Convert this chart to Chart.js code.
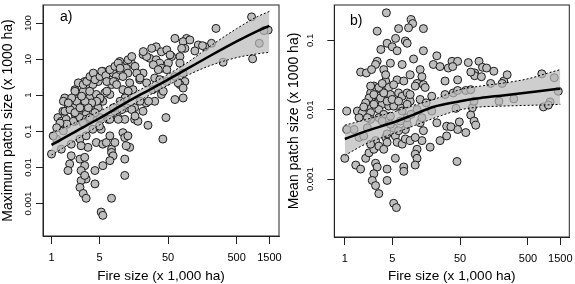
<!DOCTYPE html>
<html>
<head>
<meta charset="utf-8">
<script src="https://cdn.jsdelivr.net/npm/chart.js@4.4.1/dist/chart.umd.min.js"></script>
<style>
  body { margin: 0; background: #fff; }
  .panel { position: absolute; top: 0; }
</style>
</head>
<body>
<div class="panel" style="left:0"><canvas id="chartA" width="285" height="284"></canvas></div>
<div class="panel" style="left:285px"><canvas id="chartB" width="290" height="284"></canvas></div>
<script>
// tick values
const xTicks = [1, 5, 50, 500, 1500];
const yTicksA = [0.001, 0.01, 0.1, 1, 10, 100];
const yTicksB = [0.001, 0.01, 0.1];

// a) fire size vs maximum patch size (both x 1000 ha)
const fireA = [33.6, 40, 21.6, 27, 33.6, 37.7, 14.5, 9.9, 10.4, 12.3, 13, 5.6, 6.0, 7.9, 8.8, 11, 4.5, 4.8, 6.7, 7.5,
  8.4, 3.05, 3.2, 4.0, 2.9, 2.2, 2.3, 1.56, 1.74, 1.47, 13.8, 19.3, 21.6, 15.4, 11, 12.3, 30, 35.6, 40, 24,
  32, 12.3, 16.3, 21.6, 8.4, 3.6, 4.0, 2.9, 2.4, 3.2, 4.8, 5.6, 7.1, 6.0, 4.5, 5.0, 3.6, 2.7, 2.06, 2.2,
  1.24, 1.39, 1.64, 2.2, 2.6, 3.2, 4.5, 6.7, 9.3, 11.7, 16.3, 18.2, 25.5, 42, 1.0, 1.39, 1.94, 2.6, 3.2, 3.4,
  2.7, 4.0, 5.3, 5.0, 4.5, 5.6, 6.3, 7.1, 7.5, 8.4, 11, 11.7, 13, 13.8, 12.3, 11.7, 11.7, 7.5, 7.9, 7.1,
  5.6, 4.3, 4.3, 7.5, 1.94, 1.84, 1.74, 2.6, 3.05, 3.05, 2.7, 3.2, 2.7, 2.6, 2.9, 3.2, 3.05, 5.3, 5.6, 825,
  1440, 1250, 1070, 855, 250, 317, 215, 172, 138, 123, 159, 93, 83, 104, 88, 74.5, 74.5, 48, 56.5, 50.5,
  40.4, 48, 63, 83, 88, 74.5, 48, 42.6, 63, 83, 46.6, 1.49, 1.57, 1.86, 2.2, 2.33, 2.6, 2.2, 2.46, 2.9,
  3.26, 3.64, 4.07, 4.3, 5.1, 5.4, 6.2, 6.4, 7.1, 8.4, 9.4, 10, 8.0, 8.9, 6.4, 5.1, 4.56, 3.85, 3.44, 3.08,
  2.75, 1.97, 1.76, 13.1, 14.8, 16.5, 17.5, 13.1, 11.8, 10, 10.6, 8.0, 14.8, 16.5, 9.4, 7.1, 5.1, 4.3, 3.64, 2.9,
  2.08, 1.67, 1.33, 1.19, 1.49, 1.19, 1.06, 24.4, 21.8, 28.9, 30.5, 36, 53.4, 63, 79, 70, 83, 26, 19.5, 24.4,
  19.5, 32, 38];
const maxPatch = [22, 16, 13.4, 10.6, 9.6, 7.7, 7.7, 8.6, 6.3, 5.6, 4.1, 4.6, 3.7, 4.1, 3.3, 3.3, 3.3, 2.4, 2.4, 1.97,
  2.4, 2.4, 1.77, 1.97, 1.29, 1.43, 0.76, 0.84, 0.56, 0.36, 2.2, 2.7, 4.1, 1.43, 1.43, 0.94, 1.43, 1.58, 1.05, 0.61,
  0.68, 0.45, 0.45, 0.36, 0.36, 0.84, 0.56, 0.45, 0.36, 0.30, 0.45, 0.68, 1.05, 1.16, 1.05, 0.76, 1.29, 0.76, 0.45, 0.30,
  0.24, 0.19, 0.215, 0.19, 0.24, 0.215, 0.24, 0.215, 0.24, 0.215, 0.215, 0.19, 0.147, 0.061, 0.0235, 0.032, 0.044, 0.061, 0.075, 0.036,
  0.040, 0.114, 0.114, 0.14, 0.049, 0.044, 0.049, 0.075, 0.032, 0.049, 0.092, 0.067, 0.075, 0.036, 0.040, 0.017, 0.006, 0.026, 0.021, 0.0154,
  0.0112, 0.0082, 0.0035, 0.0014, 0.021, 0.0125, 0.0082, 0.017, 0.019, 0.0112, 0.0082, 0.0048, 0.0043, 0.0028, 0.0019, 0.0014, 0.006, 0.00058, 0.00047, 148,
  64, 62, 27.4, 10.2, 71, 8.2, 27.4, 22, 24.7, 16.9, 23.6, 37.5, 30.5, 34, 19.9, 11.8, 7.7, 18, 11.8, 7.7,
  5.6, 5.1, 3.3, 4.1, 2.4, 1.97, 2.4, 1.29, 0.76, 0.84, 0.24, 0.68, 0.36, 0.40, 0.33, 0.68, 0.45, 1.29, 2.2, 1.97,
  2.4, 3.3, 4.1, 2.7, 3.3, 4.6, 3.5, 2.4, 5.1, 6.3, 7.7, 5.6, 2.4, 1.97, 1.29, 0.84, 0.68, 0.61, 0.45, 0.68,
  0.94, 0.84, 0.61, 9.6, 11.8, 6.3, 4.1, 1.29, 0.84, 0.68, 0.40, 0.45, 0.40, 0.265, 0.215, 0.215, 0.24, 0.33, 0.24, 0.17,
  0.19, 0.157, 0.17, 0.126, 0.103, 0.061, 0.075, 11.8, 16.2, 19.9, 7.0, 5.1, 13.1, 37.5, 19.9, 2.2, 1.58, 0.68, 0.68, 2.2,
  3.0, 3.0, 2.7];

// b) fire size vs mean patch size (both x 1000 ha)
const fireB = [4.1, 9.5, 10, 8.7, 6.2, 14.4, 3.0, 5.6, 7.8, 8.3, 4.2, 3.4, 5.0, 5.9, 14.4, 10.3, 22.7, 38, 3.0, 2.84,
  4.7, 7.0, 20.2, 25.3, 33.5, 1.71, 2.08, 2.48, 3.75, 12.9, 9.2, 13.7, 4.0, 5.9, 11.6, 14.4, 10.9, 30, 2.68, 2.84,
  3.36, 4.44, 2.4, 3.17, 4.0, 4.7, 6.2, 7.0, 8.3, 15.3, 19.1, 2.54, 3.0, 3.56, 4.44, 2.27, 3.17, 6.6, 9.2, 12.9,
  30, 39.6, 9.2, 1.53, 1.81, 2.4, 3.75, 4.7, 7.0, 5.25, 1.62, 2.4, 3.17, 1.37, 2.15, 1.62, 1.0, 1.45, 1.71, 2.03,
  2.27, 2.68, 2.84, 4.0, 4.2, 3.17, 3.75, 2.84, 3.0, 2.68, 2.54, 2.84, 3.17, 4.2, 4.2, 5.25, 5.56, 5.9, 7.0, 7.8,
  9.2, 7.8, 8.3, 11.6, 10.9, 11.6, 5.56, 7.4, 7.4, 10.9, 13.7, 18.1, 14.4, 12.9, 22.7, 31.7, 31.7, 25.3, 13.7, 8.3,
  10.9, 4.2, 5.25, 5.76, 1.07, 1.07, 46, 38.9, 46, 60.7, 71.8, 43.4, 75.8, 71.8, 80.4, 85, 48.7, 46, 60.7, 36.6,
  45, 95, 107, 123, 157, 82, 82, 103, 141, 220, 247, 208, 187, 309, 800, 1220, 1400, 1060, 846, 1000,
  80, 66, 72, 46, 2.27, 2.68, 2.03, 3.36, 3.75, 2.68, 1.9, 4.2, 4.98, 3.17, 2.4, 3.56, 5.25, 4.0, 7.4, 6.2,
  8.3, 2.15, 3.56, 4.7, 6.6, 9.5, 11.6, 19.1, 1.9, 2.4, 6.2, 15.8];
const meanPatch = [0.25, 0.20, 0.175, 0.152, 0.148, 0.148, 0.136, 0.107, 0.098, 0.091, 0.091, 0.074, 0.081, 0.071, 0.071, 0.054, 0.060, 0.050, 0.050, 0.045,
  0.047, 0.045, 0.045, 0.042, 0.040, 0.035, 0.034, 0.038, 0.038, 0.038, 0.032, 0.030, 0.026, 0.027, 0.024, 0.023, 0.022, 0.026, 0.022, 0.0185,
  0.0195, 0.021, 0.0175, 0.0157, 0.0148, 0.0166, 0.0175, 0.0157, 0.0175, 0.021, 0.0157, 0.0133, 0.0126, 0.012, 0.0113, 0.0107, 0.0101, 0.0107, 0.0133, 0.0141,
  0.0166, 0.0175, 0.0166, 0.0096, 0.0091, 0.0091, 0.0086, 0.0081, 0.0096, 0.0113, 0.0077, 0.0073, 0.0077, 0.0052, 0.0055, 0.004, 0.002, 0.0016, 0.0014, 0.002,
  0.0024, 0.0027, 0.0036, 0.004, 0.0034, 0.003, 0.0027, 0.0017, 0.0015, 0.0012, 0.00096, 0.00081, 0.00062, 0.00096, 0.0014, 0.0055, 0.0042, 0.0034, 0.0032, 0.0038,
  0.0036, 0.0052, 0.0062, 0.0027, 0.0023, 0.002, 0.002, 0.0015, 0.0013, 0.0016, 0.0036, 0.0029, 0.005, 0.0065, 0.0065, 0.0058, 0.0042, 0.0036, 0.0077, 0.0077,
  0.004, 0.0045, 0.00045, 0.00039, 0.0096, 0.0052, 0.050, 0.042, 0.027, 0.019, 0.0195, 0.0105, 0.0107, 0.0084, 0.0069, 0.006, 0.0067, 0.0052, 0.0047, 0.0057,
  0.0018, 0.050, 0.041, 0.040, 0.036, 0.034, 0.031, 0.030, 0.024, 0.026, 0.032, 0.024, 0.0133, 0.0144, 0.033, 0.029, 0.0185, 0.013, 0.011, 0.0117,
  0.0133, 0.048, 0.035, 0.019, 0.0148, 0.0166, 0.0126, 0.0148, 0.0175, 0.012, 0.011, 0.0133, 0.0141, 0.021, 0.022, 0.024, 0.023, 0.032, 0.026, 0.0133,
  0.012, 0.0077, 0.0069, 0.0062, 0.0069, 0.0086, 0.0101, 0.0096, 0.0042, 0.0032, 0.005, 0.0126];

// fitted curves with confidence band, read at these fire sizes
const fitX = [1, 2, 5, 10, 20, 50, 100, 200, 500, 1000, 1500];
const fitA = [0.042, 0.088, 0.23, 0.5, 1.05, 2.7, 5.7, 12, 31, 60, 84];
const upperA = [0.09, 0.16, 0.36, 0.72, 1.45, 3.8, 8.5, 22, 70, 150, 210];
const lowerA = [0.022, 0.05, 0.15, 0.34, 0.74, 1.9, 3.7, 6.5, 11, 14, 15.5];
const fitB = [0.0038, 0.0049, 0.0065, 0.0084, 0.011, 0.0133, 0.0148, 0.016, 0.0177, 0.0193, 0.0202];
const upperB = [0.006, 0.0072, 0.0092, 0.0115, 0.014, 0.0195, 0.022, 0.024, 0.028, 0.034, 0.038];
const lowerB = [0.0022, 0.0032, 0.0045, 0.0058, 0.0075, 0.010, 0.011, 0.0113, 0.0116, 0.0118, 0.012];

Chart.defaults.font.family = 'Liberation Sans, Arial, sans-serif';
Chart.defaults.color = '#000';

function pairs(xs, ys) {
    return xs.map((x, i) => ({x: x, y: ys[i]}));
}

// box around the plot region + panel letter
const framePlugin = {
    id: 'frame',
    afterDraw(chart, args, opts) {
        const {ctx, chartArea} = chart;
        ctx.save();
        ctx.strokeStyle = '#222';
        ctx.lineWidth = 1;
        ctx.strokeRect(chartArea.left, chartArea.top, chartArea.right - chartArea.left, chartArea.bottom - chartArea.top);
        ctx.fillStyle = '#000';
        ctx.font = '14px Liberation Sans, Arial, sans-serif';
        ctx.fillText(opts.text, opts.x, opts.y);
        ctx.restore();
    }
};

function makePanel(id, p) {
    const ctx = document.getElementById(id).getContext('2d');
    return new Chart(ctx, {
        type: 'scatter',
        data: {
            datasets: [{
                data: pairs(p.fire, p.patch),
                pointRadius: 4,
                pointBackgroundColor: '#bebebe',
                pointBorderColor: '#1a1a1a',
                pointBorderWidth: 1,
                order: 4
            }, {
                type: 'line',
                data: pairs(fitX, p.upper),
                borderColor: '#000',
                borderWidth: 1,
                borderDash: [2, 2],
                backgroundColor: 'rgba(185,185,185,0.7)',
                fill: '+1',
                pointRadius: 0,
                cubicInterpolationMode: 'monotone',
                order: 3
            }, {
                type: 'line',
                data: pairs(fitX, p.lower),
                borderColor: '#000',
                borderWidth: 1,
                borderDash: [2, 2],
                fill: false,
                pointRadius: 0,
                cubicInterpolationMode: 'monotone',
                order: 2
            }, {
                type: 'line',
                data: pairs(fitX, p.fit),
                borderColor: '#000',
                borderWidth: 2.5,
                fill: false,
                pointRadius: 0,
                cubicInterpolationMode: 'monotone',
                order: 1
            }]
        },
        options: {
            responsive: false,
            animation: false,
            devicePixelRatio: 1,
            layout: { padding: { left: 0, right: p.padRight, top: 3, bottom: 0 } },
            scales: {
                x: {
                    type: 'logarithmic',
                    min: p.xMin,
                    max: p.xMax,
                    afterBuildTicks: function(s) { s.ticks = xTicks.map(v => ({value: v})); },
                    afterFit: function(s) { s.height = p.xHeight; s.paddingLeft = 0; s.paddingRight = 0; },
                    grid: { drawOnChartArea: false, tickLength: 8, tickColor: '#222' },
                    border: { color: '#222' },
                    ticks: { autoSkip: false, maxRotation: 0, padding: 7, font: { size: 11 }, callback: v => String(v) },
                    title: { display: true, text: 'Fire size (x 1,000 ha)', font: { size: 13.6 }, padding: 0 }
                },
                y: {
                    type: 'logarithmic',
                    min: p.yMin,
                    max: p.yMax,
                    afterBuildTicks: function(s) { s.ticks = p.yTicks.map(v => ({value: v})); },
                    afterFit: function(s) { s.width = p.yWidth; s.paddingTop = 0; s.paddingBottom = 0; },
                    grid: { drawOnChartArea: false, tickLength: 7, tickColor: '#222' },
                    border: { color: '#222' },
                    ticks: {
                        autoSkip: false, minRotation: 90, maxRotation: 90, crossAlign: 'center',
                        padding: p.yPad, font: { size: 9.5 }, callback: v => String(v)
                    },
                    title: { display: true, text: p.yTitle, font: { size: 14 }, padding: { top: p.titlePad, bottom: 0 } }
                }
            },
            plugins: {
                legend: { display: false },
                tooltip: { enabled: false },
                frame: p.label
            }
        },
        plugins: [framePlugin]
    });
}

makePanel('chartA', {
    fire: fireA, patch: maxPatch, fit: fitA, upper: upperA, lower: lowerA,
    xMin: 0.752, xMax: 2072, yMin: 0.000126, yMax: 316, yTicks: yTicksA,
    padRight: 6, xHeight: 48, yWidth: 43, yPad: -4.2, titlePad: 0,
    yTitle: 'Maximum patch size (x 1000 ha)',
    label: { text: 'a)', x: 60, y: 21 }
});

makePanel('chartB', {
    fire: fireB, patch: meanPatch, fit: fitB, upper: upperB, lower: lowerB,
    xMin: 0.746, xMax: 2034, yMin: 0.000147, yMax: 0.324, yTicks: yTicksB,
    padRight: 5.7, xHeight: 47, yWidth: 49.3, yPad: 4.9, titlePad: 0.6,
    yTitle: 'Mean patch size (x 1000 ha)',
    label: { text: 'b)', x: 65, y: 25 }
});
</script>
</body>
</html>
